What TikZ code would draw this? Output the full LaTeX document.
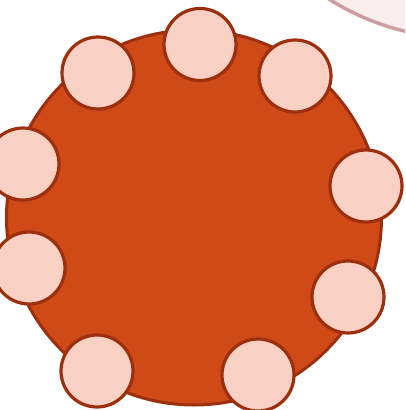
\documentclass[tikz,border=0pt]{standalone}
\usetikzlibrary{positioning}
\definecolor{rim}{RGB}{156,47,14}
\definecolor{core}{RGB}{208,74,24}
\definecolor{bead}{RGB}{248,208,196}
\definecolor{ghostline}{RGB}{204,158,162}
\definecolor{ghostfill}{RGB}{248,237,237}

\begin{document}
\begin{tikzpicture}[
    body/.style={circle, draw=rim, fill=core, line width=3pt, inner sep=0pt, minimum size=375pt},
    beadnode/.style={circle, draw=rim, fill=bead, line width=3.2pt, inner sep=0pt, minimum size=72pt},
    ghost/.style={circle, draw=ghostline, fill=ghostfill, line width=3.5pt, inner sep=0pt, minimum size=500pt},
    x=1pt, y=-1pt
]
    \useasboundingbox (0,0) rectangle (405,410);
    \clip (0,0) rectangle (405,410);

    % --- faint neighbour in the corner ---
    \node[ghost] (neighbour) at (463,-212) {};

    % --- main disc ---
    \node[body] (disc) at (194,217.5) {};

    % --- beads round the rim ---
    \foreach \x/\y [count=\i] in {200/44.5, 98/73, 295/76, 23/164, 366/186,
                                  29/268, 348/297, 97/371, 258/375} {
        \node[beadnode] (bead\i) at (\x,\y) {};
    }
\end{tikzpicture}
\end{document}
